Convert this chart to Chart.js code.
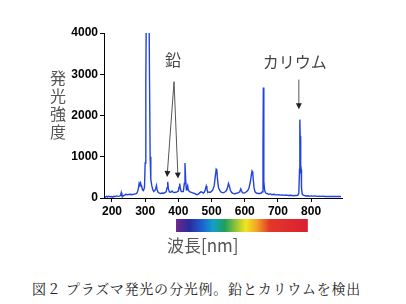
<!DOCTYPE html>
<html>
<head>
<meta charset="utf-8">
<script src="https://cdn.jsdelivr.net/npm/chart.js@4"></script>
<style>
  body { margin: 0; background: #fff; }
  #wrap { position: relative; width: 406px; height: 304px; overflow: hidden; }
  #wrap canvas { position: absolute; left: 0; top: 0; }
  .lbl { position: absolute; font-family: "Noto Sans CJK JP", sans-serif; color: #555; white-space: nowrap; }
  #ytitle { left: 49px; top: 68px; font-size: 16px; line-height: 18px; width: 18px; text-align: center; }
  #xtitle { left: 167px; top: 232px; font-size: 17px; }
  #caption { left: 32px; top: 278px; font-size: 14px; color: #222; letter-spacing: 0.8px;
             font-family: "Noto Serif CJK JP", "Noto Sans CJK JP", serif; }
</style>
</head>
<body>
<div id="wrap">
  <canvas id="spectrumChart" width="406" height="260"></canvas>
  <div class="lbl" id="ytitle">発<br>光<br>強<br>度</div>
  <div class="lbl" id="xtitle">波長[nm]</div>
  <div class="lbl" id="caption">図２ プラズマ発光の分光例。鉛とカリウムを検出</div>
</div>
<script>
// spectrum (wavelength nm, intensity)
const wavelengths = [
  178, 181, 184, 187, 190, 194, 198, 202, 206, 210, 214, 218, 222, 226, 228, 230, 234, 238, 242, 246,
  250, 255, 260, 265, 270, 274, 277, 280, 282, 284, 286, 288, 290, 292, 295, 298, 300, 302, 304, 306,
  309, 311, 313, 315, 317, 320, 323, 326, 329, 332, 334, 336, 339, 343, 347, 351, 355, 359, 363, 366,
  368, 370, 373, 377, 381, 384, 388, 392, 396, 400, 402, 404, 406, 408, 411, 415, 418, 420, 422, 424,
  426, 428, 430, 433, 437, 441, 445, 449, 453, 457, 461, 465, 468, 471, 475, 478, 481, 484, 486, 488,
  492, 496, 500, 504, 508, 511, 514, 516, 518, 521, 525, 529, 533, 537, 541, 545, 548, 551, 554, 557,
  561, 565, 569, 573, 577, 581, 585, 588, 590, 593, 597, 601, 605, 609, 613, 617, 620, 622, 624, 626,
  628, 631, 635, 640, 645, 650, 653, 655, 656, 657, 658, 660, 663, 667, 672, 677, 682, 687, 692, 697,
  702, 707, 712, 717, 722, 727, 732, 737, 742, 747, 752, 757, 760, 763, 765, 766, 767, 768, 769, 770,
  771, 773, 776, 780, 785, 790, 795, 800, 806, 812, 818, 824, 830, 836, 842, 848, 854, 860, 866, 872,
  878, 884, 890
];
const intensities = [
  30, 20, 45, 25, 40, 30, 35, 20, 40, 35, 50, 40, 45, 60, 130, 60, 50, 70, 90, 80,
  85, 90, 80, 90, 100, 110, 150, 250, 360, 330, 370, 300, 260, 200, 180, 260, 850, 2800, 5200, 6000,
  6000, 5500, 3000, 1000, 450, 300, 200, 160, 180, 230, 300, 200, 140, 120, 110, 120, 110, 130, 150, 250,
  390, 220, 150, 140, 170, 140, 130, 140, 150, 170, 260, 350, 230, 170, 150, 160, 350, 850, 450, 200,
  250, 300, 200, 160, 140, 130, 120, 110, 90, 80, 100, 130, 150, 140, 120, 140, 200, 290, 220, 150,
  140, 140, 160, 200, 300, 500, 700, 680, 450, 250, 180, 140, 130, 130, 150, 180, 250, 350, 280, 180,
  130, 110, 100, 110, 120, 130, 150, 220, 180, 130, 120, 130, 150, 180, 250, 400, 560, 650, 620, 420,
  250, 150, 120, 110, 110, 120, 150, 1200, 2680, 1900, 400, 180, 120, 110, 90, 100, 80, 90, 80, 75,
  80, 70, 75, 70, 65, 70, 60, 65, 60, 55, 60, 60, 70, 120, 700, 1900, 1500, 600, 800, 700,
  250, 100, 70, 60, 50, 55, 45, 50, 45, 50, 40, 45, 40, 45, 35, 40, 35, 40, 35, 40,
  35, 40, 35
];
const xTicks = [200, 300, 400, 500, 600, 700, 800];
const yTicks = [0, 1000, 2000, 3000, 4000];

// annotations: [label, wavelength, intensity] and arrows [fromWl, fromI, toWl, toI]
const leadLabel = ["鉛", 384, 3350];
const potassiumLabel = ["カリウム", 751, 3300];
const arrows = [
  [387, 2820, 366, 510],
  [387, 2820, 399, 470],
  [763, 2870, 763, 2150]
];

// visible band under the axis, nm
const bandRange = [393, 790];
const bandColours = [
  [0.00, "#6b2a8c"], [0.10, "#2b2a9e"], [0.20, "#1d62cc"], [0.28, "#12a0c8"],
  [0.37, "#1fa05a"], [0.46, "#9cc63a"], [0.53, "#f2e41e"], [0.61, "#f2a526"],
  [0.71, "#e2382a"], [1.00, "#dc1e32"]
];

const overlay = {
  id: "overlay",
  afterDraw(chart) {
    const ctx = chart.ctx;
    const x = chart.scales.x, y = chart.scales.y;
    const area = chart.chartArea;

    // colour band
    const bx0 = x.getPixelForValue(bandRange[0]);
    const bx1 = x.getPixelForValue(bandRange[1]);
    const by = area.bottom + 21;
    const grad = ctx.createLinearGradient(bx0, 0, bx1, 0);
    bandColours.forEach(([s, c]) => grad.addColorStop(s, c));
    ctx.save();
    ctx.fillStyle = grad;
    ctx.fillRect(bx0, by, bx1 - bx0, 13);

    // labels
    ctx.fillStyle = "#444";
    ctx.font = "16px 'Noto Sans CJK JP'";
    ctx.textAlign = "center";
    ctx.textBaseline = "middle";
    [leadLabel, potassiumLabel].forEach(([t, wl, v]) => {
      ctx.fillText(t, x.getPixelForValue(wl), y.getPixelForValue(v));
    });

    // arrows
    ctx.strokeStyle = "#555";
    ctx.fillStyle = "#222";
    ctx.lineWidth = 1;
    arrows.forEach(([w0, v0, w1, v1]) => {
      const x0 = x.getPixelForValue(w0), y0 = y.getPixelForValue(v0);
      const x1 = x.getPixelForValue(w1), y1 = y.getPixelForValue(v1);
      const a = Math.atan2(y1 - y0, x1 - x0);
      ctx.beginPath();
      ctx.moveTo(x0, y0);
      ctx.lineTo(x1 - 5 * Math.cos(a), y1 - 5 * Math.sin(a));
      ctx.stroke();
      ctx.beginPath();
      ctx.moveTo(x1, y1);
      ctx.lineTo(x1 - 6 * Math.cos(a) + 3 * Math.sin(a), y1 - 6 * Math.sin(a) - 3 * Math.cos(a));
      ctx.lineTo(x1 - 6 * Math.cos(a) - 3 * Math.sin(a), y1 - 6 * Math.sin(a) + 3 * Math.cos(a));
      ctx.closePath();
      ctx.fill();
    });
    ctx.restore();
  }
};

const tickFont = { family: "'Liberation Sans', Arial, sans-serif", size: 12, weight: "bold" };

new Chart(document.getElementById("spectrumChart").getContext("2d"), {
  type: "line",
  data: {
    datasets: [{
      data: wavelengths.map((wl, i) => ({ x: wl, y: intensities[i] })),
      borderColor: "#2143e0",
      borderWidth: 1.4,
      pointRadius: 0,
      tension: 0
    }]
  },
  options: {
    responsive: false,
    animation: false,
    layout: { padding: { left: 60, right: 64, top: 33, bottom: 0 } },
    plugins: { legend: { display: false }, tooltip: { enabled: false } },
    scales: {
      x: {
        type: "linear",
        min: 176,
        max: 893,
        afterBuildTicks: scale => { scale.ticks = xTicks.map(v => ({ value: v })); },
        afterFit: scale => { scale.height = 62; },
        border: { color: "#000", width: 1 },
        grid: { drawOnChartArea: false, color: "#000", tickLength: 4 },
        ticks: { color: "#000", font: tickFont, padding: 2, maxRotation: 0, callback: v => String(v) }
      },
      y: {
        min: 0,
        max: 4000,
        afterBuildTicks: scale => { scale.ticks = yTicks.map(v => ({ value: v })); },
        afterFit: scale => { scale.width = 44; },
        border: { color: "#000", width: 1 },
        grid: { drawOnChartArea: false, color: "#000", tickLength: 4 },
        ticks: { color: "#000", font: tickFont, padding: 2, callback: v => String(v) }
      }
    }
  },
  plugins: [overlay]
});
</script>
</body>
</html>
